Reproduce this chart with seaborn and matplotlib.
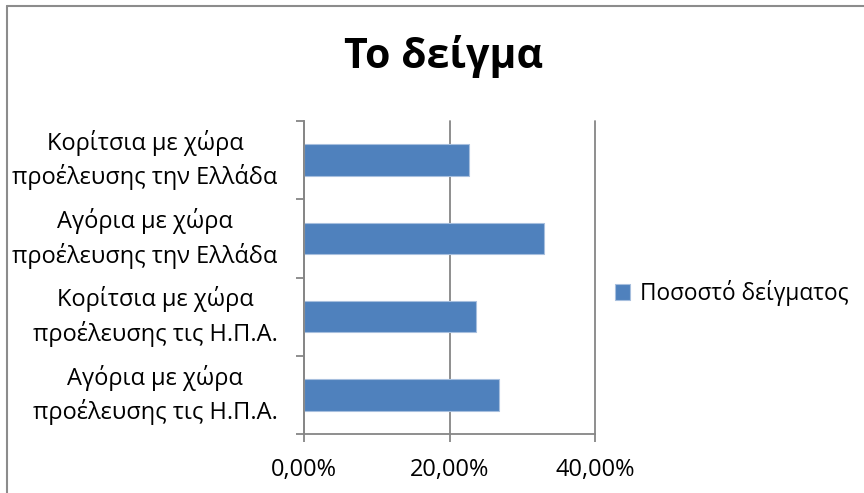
import matplotlib
matplotlib.use("Agg")
import matplotlib.pyplot as plt
from matplotlib.lines import Line2D
from matplotlib.ticker import FuncFormatter, FixedLocator
import seaborn as sns
import pandas as pd

title = "Το δείγμα"
categories = [
    "Κορίτσια με χώρα\nπροέλευσης την Ελλάδα",
    "Αγόρια με χώρα\nπροέλευσης την Ελλάδα",
    "Κορίτσια με χώρα\nπροέλευσης τις Η.Π.Α.",
    "Αγόρια με χώρα\nπροέλευσης τις Η.Π.Α.",
]
values = [0.227, 0.330, 0.237, 0.268]
series_name = "Ποσοστό δείγματος"
x_ticks = [0.0, 0.2, 0.4]

sns.set_theme(style="white")
plt.rcParams["font.family"] = ["Open Sans", "DejaVu Sans"]

df = pd.DataFrame({"category": categories, "value": values, "series": series_name})

fig = plt.figure(figsize=(8.64, 4.93), dpi=100)
ax = fig.add_axes([304 / 864, 1 - 434 / 493, (595 - 304) / 864, (434 - 121) / 493])

bar_color = "#4F81BD"
sns.barplot(data=df, y="category", x="value", hue="series", orient="h",
            palette=[bar_color], saturation=1, width=0.4, ax=ax,
            edgecolor="#A7BFDE", linewidth=0.8, legend=True)

grid_c = "#868686"
ax.set_xlim(0, 0.4)
ax.set_ylim(3.5, -0.5)
ax.set_xlabel("")
ax.set_ylabel("")
ax.xaxis.set_major_locator(FixedLocator(x_ticks))
ax.xaxis.set_major_formatter(FuncFormatter(lambda v, p: f"{v*100:.2f}%".replace(".", ",")))
ax.grid(axis="x", color=grid_c, linewidth=1.3)
ax.grid(axis="y", visible=False)
ax.set_axisbelow(True)
for gl in ax.get_xgridlines():
    gl.set_clip_on(False)

for s in ["top", "right"]:
    ax.spines[s].set_visible(False)
for s in ["left", "bottom"]:
    ax.spines[s].set_color(grid_c)
    ax.spines[s].set_linewidth(1.3)

ax.yaxis.set_minor_locator(FixedLocator([-0.5, 0.5, 1.5, 2.5, 3.5]))
ax.tick_params(axis="y", which="major", length=0, pad=19, labelsize=17, labelcolor="#000000")
ax.tick_params(axis="y", which="minor", length=5.5, width=1.3, color=grid_c, left=True)
ax.tick_params(axis="x", which="major", length=6, width=1.3, color=grid_c, bottom=True,
               labelsize=17, labelcolor="#000000", pad=11)
for lab in ax.get_yticklabels():
    lab.set_multialignment("center")
    lab.set_linespacing(1.42)
    lab.set_verticalalignment("center")

fig.text(444 / 864, 1 - 57 / 493, title, ha="center", va="center",
         fontsize=29.5, fontweight="bold", color="#000000")

leg = ax.legend(loc="center left", bbox_to_anchor=(615 / 864, 1 - 293 / 493),
                bbox_transform=fig.transFigure, frameon=False, fontsize=16.3,
                handlelength=0.65, handleheight=0.65, handletextpad=0.45, borderpad=0,
                borderaxespad=0)
for t in leg.get_texts():
    t.set_color("#000000")

# chart area border (top and left visible)
fig.add_artist(Line2D([6.5 / 864, 1], [1 - 5.5 / 493, 1 - 5.5 / 493],
                      transform=fig.transFigure, color="#8C8C8C", linewidth=1.5))
fig.add_artist(Line2D([6.5 / 864, 6.5 / 864], [0, 1 - 5.5 / 493],
                      transform=fig.transFigure, color="#8C8C8C", linewidth=1.5))

fig.savefig("out.png", dpi=100, facecolor="white")
